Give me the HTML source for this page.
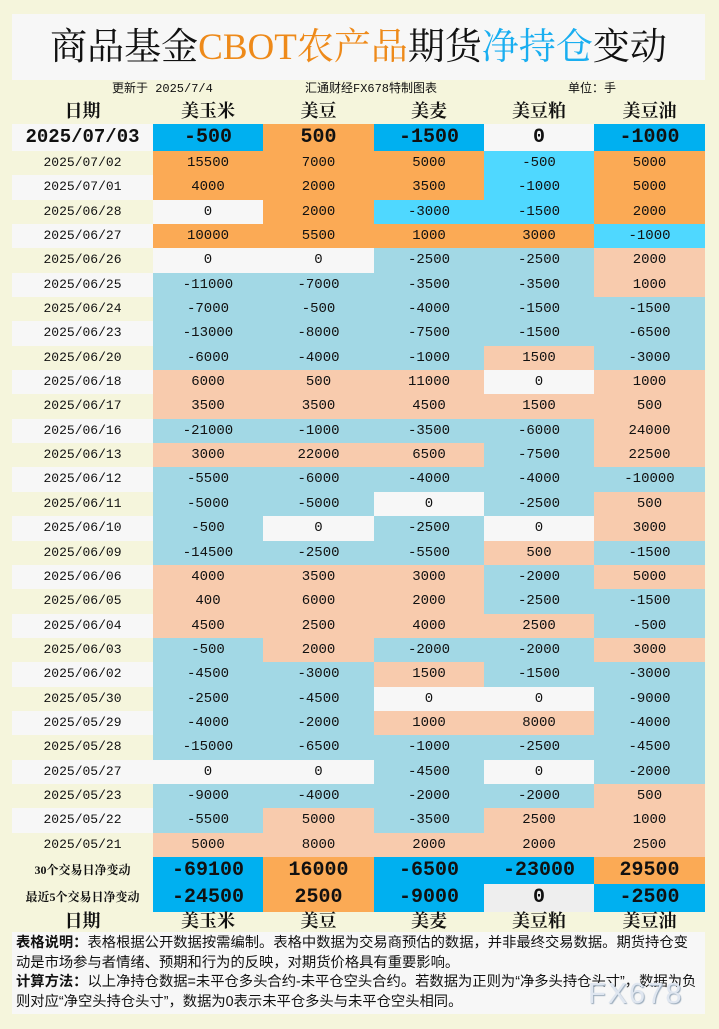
<!DOCTYPE html>
<html><head><meta charset="utf-8"><style>
*{margin:0;padding:0;box-sizing:border-box}
body{width:719px;height:1029px;background:#f5f5dc;position:relative;overflow:hidden;font-family:"Liberation Serif","Noto Serif CJK SC",serif;color:#111}
.title{position:absolute;left:12px;top:14px;width:693px;height:66px;background:#f7f7f7;text-align:center;font-size:37px;line-height:68px;font-weight:normal;font-family:"Liberation Serif","Noto Serif CJK SC",serif}
.o{color:#ee8a1a}.b{color:#19aef0}
.info{position:absolute;top:80px;font-size:12px;line-height:18px;font-family:"Liberation Mono","Noto Sans CJK SC",monospace}
.hdr{position:absolute;left:12px;width:693px;display:flex;font-size:18px;font-weight:bold;line-height:22px}
.hdr div{text-align:center}
.c0{width:141px}.c1{width:110px}.c2{width:111px}.c3{width:110px}.c4{width:110px}.c5{width:111px}
#t{position:absolute;left:12px;top:124px;width:693px;font-family:"Liberation Mono",monospace}
.r{display:flex;height:24.35px;font-size:14px;line-height:24.35px;text-align:center}
.r .c0{font-size:13px}
.r div{height:100%}
.big{height:27px;line-height:27px;font-size:20px;font-weight:bold}
.big .c0{font-size:19px!important}
.w{background:#f7f7f7}
.P{background:#fbaa55}.N{background:#00b0f0}.C{background:#4fd8ff}
.p{background:#f8cbad}.n{background:#a2d8e5}.z{background:#f7f7f7}.Z{background:#eeeeee}
.s{height:27.5px;line-height:27.5px;font-size:20px;font-weight:bold;display:flex;text-align:center}
.s .c0{font-size:12px;font-weight:bold;font-family:"Liberation Serif","Noto Serif CJK SC",serif}
.note{position:absolute;left:12px;top:932px;width:693px;height:82px;background:#f7f7f7;font-family:"Liberation Sans","Noto Sans CJK SC",sans-serif;font-size:14.3px;line-height:19.5px;padding:2px 4px;color:#111}
.wm{position:absolute;left:588px;top:978px;font-family:"Liberation Sans",sans-serif;font-size:29px;color:#dfe6f0;letter-spacing:2px;text-shadow:1px 1px 1px #9ab}
</style></head><body>
<div class="title">商品基金<span class="o">CBOT农产品</span>期货<span class="b">净持仓</span>变动</div>
<div class="info" style="left:112px">更新于 2025/7/4</div>
<div class="info" style="left:305px">汇通财经FX678特制图表</div>
<div class="info" style="left:568px">单位：手</div>
<div class="hdr" style="top:100px"><div class="c0">日期</div><div class="c1">美玉米</div><div class="c2">美豆</div><div class="c3">美麦</div><div class="c4">美豆粕</div><div class="c5">美豆油</div></div>
<div id="t">
<div class="r big"><div class="c0 w">2025/07/03</div><div class="c1 N">-500</div><div class="c2 P">500</div><div class="c3 N">-1500</div><div class="c4 w">0</div><div class="c5 N">-1000</div></div>
<div class="r"><div class="c0">2025/07/02</div><div class="c1 P">15500</div><div class="c2 P">7000</div><div class="c3 P">5000</div><div class="c4 C">-500</div><div class="c5 P">5000</div></div>
<div class="r"><div class="c0 w">2025/07/01</div><div class="c1 P">4000</div><div class="c2 P">2000</div><div class="c3 P">3500</div><div class="c4 C">-1000</div><div class="c5 P">5000</div></div>
<div class="r"><div class="c0">2025/06/28</div><div class="c1 z">0</div><div class="c2 P">2000</div><div class="c3 C">-3000</div><div class="c4 C">-1500</div><div class="c5 P">2000</div></div>
<div class="r"><div class="c0 w">2025/06/27</div><div class="c1 P">10000</div><div class="c2 P">5500</div><div class="c3 P">1000</div><div class="c4 P">3000</div><div class="c5 C">-1000</div></div>
<div class="r"><div class="c0">2025/06/26</div><div class="c1 z">0</div><div class="c2 z">0</div><div class="c3 n">-2500</div><div class="c4 n">-2500</div><div class="c5 p">2000</div></div>
<div class="r"><div class="c0 w">2025/06/25</div><div class="c1 n">-11000</div><div class="c2 n">-7000</div><div class="c3 n">-3500</div><div class="c4 n">-3500</div><div class="c5 p">1000</div></div>
<div class="r"><div class="c0">2025/06/24</div><div class="c1 n">-7000</div><div class="c2 n">-500</div><div class="c3 n">-4000</div><div class="c4 n">-1500</div><div class="c5 n">-1500</div></div>
<div class="r"><div class="c0 w">2025/06/23</div><div class="c1 n">-13000</div><div class="c2 n">-8000</div><div class="c3 n">-7500</div><div class="c4 n">-1500</div><div class="c5 n">-6500</div></div>
<div class="r"><div class="c0">2025/06/20</div><div class="c1 n">-6000</div><div class="c2 n">-4000</div><div class="c3 n">-1000</div><div class="c4 p">1500</div><div class="c5 n">-3000</div></div>
<div class="r"><div class="c0 w">2025/06/18</div><div class="c1 p">6000</div><div class="c2 p">500</div><div class="c3 p">11000</div><div class="c4 z">0</div><div class="c5 p">1000</div></div>
<div class="r"><div class="c0">2025/06/17</div><div class="c1 p">3500</div><div class="c2 p">3500</div><div class="c3 p">4500</div><div class="c4 p">1500</div><div class="c5 p">500</div></div>
<div class="r"><div class="c0 w">2025/06/16</div><div class="c1 n">-21000</div><div class="c2 n">-1000</div><div class="c3 n">-3500</div><div class="c4 n">-6000</div><div class="c5 p">24000</div></div>
<div class="r"><div class="c0">2025/06/13</div><div class="c1 p">3000</div><div class="c2 p">22000</div><div class="c3 p">6500</div><div class="c4 n">-7500</div><div class="c5 p">22500</div></div>
<div class="r"><div class="c0 w">2025/06/12</div><div class="c1 n">-5500</div><div class="c2 n">-6000</div><div class="c3 n">-4000</div><div class="c4 n">-4000</div><div class="c5 n">-10000</div></div>
<div class="r"><div class="c0">2025/06/11</div><div class="c1 n">-5000</div><div class="c2 n">-5000</div><div class="c3 z">0</div><div class="c4 n">-2500</div><div class="c5 p">500</div></div>
<div class="r"><div class="c0 w">2025/06/10</div><div class="c1 n">-500</div><div class="c2 z">0</div><div class="c3 n">-2500</div><div class="c4 z">0</div><div class="c5 p">3000</div></div>
<div class="r"><div class="c0">2025/06/09</div><div class="c1 n">-14500</div><div class="c2 n">-2500</div><div class="c3 n">-5500</div><div class="c4 p">500</div><div class="c5 n">-1500</div></div>
<div class="r"><div class="c0 w">2025/06/06</div><div class="c1 p">4000</div><div class="c2 p">3500</div><div class="c3 p">3000</div><div class="c4 n">-2000</div><div class="c5 p">5000</div></div>
<div class="r"><div class="c0">2025/06/05</div><div class="c1 p">400</div><div class="c2 p">6000</div><div class="c3 p">2000</div><div class="c4 n">-2500</div><div class="c5 n">-1500</div></div>
<div class="r"><div class="c0 w">2025/06/04</div><div class="c1 p">4500</div><div class="c2 p">2500</div><div class="c3 p">4000</div><div class="c4 p">2500</div><div class="c5 n">-500</div></div>
<div class="r"><div class="c0">2025/06/03</div><div class="c1 n">-500</div><div class="c2 p">2000</div><div class="c3 n">-2000</div><div class="c4 n">-2000</div><div class="c5 p">3000</div></div>
<div class="r"><div class="c0 w">2025/06/02</div><div class="c1 n">-4500</div><div class="c2 n">-3000</div><div class="c3 p">1500</div><div class="c4 n">-1500</div><div class="c5 n">-3000</div></div>
<div class="r"><div class="c0">2025/05/30</div><div class="c1 n">-2500</div><div class="c2 n">-4500</div><div class="c3 z">0</div><div class="c4 z">0</div><div class="c5 n">-9000</div></div>
<div class="r"><div class="c0 w">2025/05/29</div><div class="c1 n">-4000</div><div class="c2 n">-2000</div><div class="c3 p">1000</div><div class="c4 p">8000</div><div class="c5 n">-4000</div></div>
<div class="r"><div class="c0">2025/05/28</div><div class="c1 n">-15000</div><div class="c2 n">-6500</div><div class="c3 n">-1000</div><div class="c4 n">-2500</div><div class="c5 n">-4500</div></div>
<div class="r"><div class="c0 w">2025/05/27</div><div class="c1 z">0</div><div class="c2 z">0</div><div class="c3 n">-4500</div><div class="c4 z">0</div><div class="c5 n">-2000</div></div>
<div class="r"><div class="c0">2025/05/23</div><div class="c1 n">-9000</div><div class="c2 n">-4000</div><div class="c3 n">-2000</div><div class="c4 n">-2000</div><div class="c5 p">500</div></div>
<div class="r"><div class="c0 w">2025/05/22</div><div class="c1 n">-5500</div><div class="c2 p">5000</div><div class="c3 n">-3500</div><div class="c4 p">2500</div><div class="c5 p">1000</div></div>
<div class="r"><div class="c0">2025/05/21</div><div class="c1 p">5000</div><div class="c2 p">8000</div><div class="c3 p">2000</div><div class="c4 p">2000</div><div class="c5 p">2500</div></div>
<div class="s"><div class="c0">30个交易日净变动</div><div class="c1 N">-69100</div><div class="c2 P">16000</div><div class="c3 N">-6500</div><div class="c4 N">-23000</div><div class="c5 P">29500</div></div>
<div class="s"><div class="c0">最近5个交易日净变动</div><div class="c1 N">-24500</div><div class="c2 P">2500</div><div class="c3 N">-9000</div><div class="c4 Z">0</div><div class="c5 N">-2500</div></div>
</div>
<div class="hdr" style="top:910px"><div class="c0">日期</div><div class="c1">美玉米</div><div class="c2">美豆</div><div class="c3">美麦</div><div class="c4">美豆粕</div><div class="c5">美豆油</div></div>
<div class="note"><b>表格说明：</b>表格根据公开数据按需编制。表格中数据为交易商预估的数据，并非最终交易数据。期货持仓变动是市场参与者情绪、预期和行为的反映，对期货价格具有重要影响。<br><b>计算方法：</b>以上净持仓数据=未平仓多头合约-未平仓空头合约。若数据为正则为“净多头持仓头寸”，数据为负则对应“净空头持仓头寸”，数据为0表示未平仓多头与未平仓空头相同。</div>
<div class="wm">FX678</div>
</body></html>
